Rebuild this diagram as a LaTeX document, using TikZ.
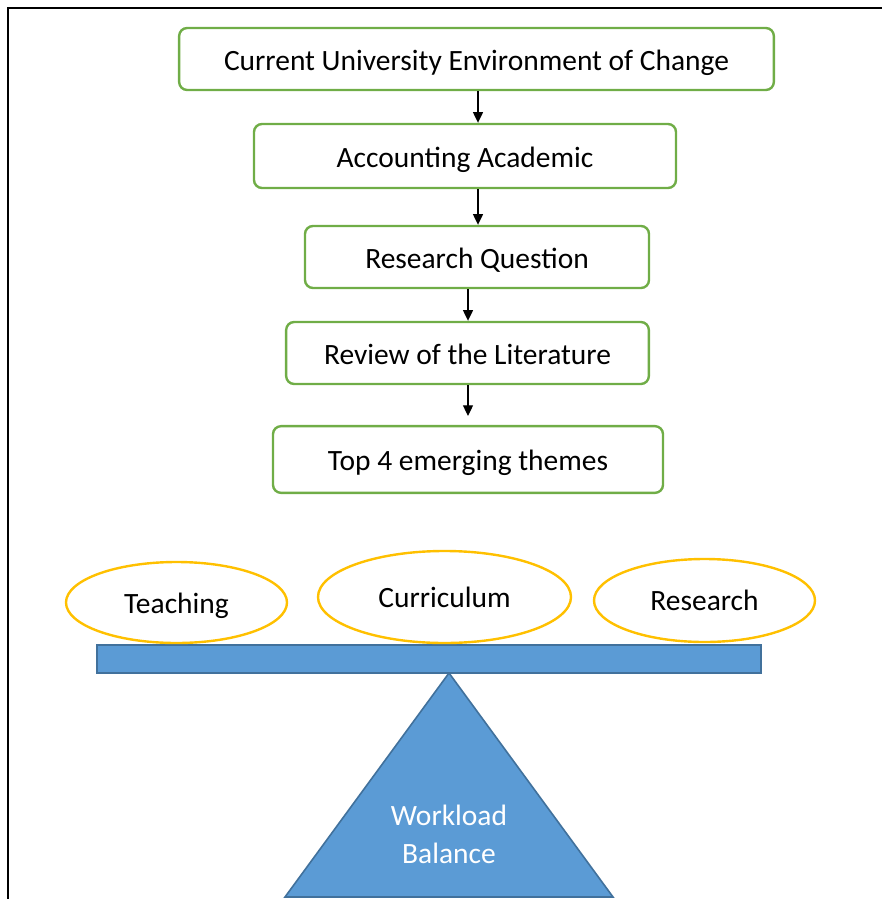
\documentclass[tikz,border=0pt]{standalone}
\usepackage{fontspec}
\setmainfont{Carlito}
\usetikzlibrary{arrows.meta,shapes.geometric}
\definecolor{boxgreen}{HTML}{70AD47}
\definecolor{themegold}{HTML}{FFC000}
\definecolor{beamblue}{HTML}{5B9BD5}
\definecolor{beamedge}{HTML}{41719C}

\begin{document}
\begin{tikzpicture}[x=0.75pt,y=-0.75pt,>={Triangle[length=8pt,width=7.5pt]},
  step box/.style={draw=boxgreen,line width=1.8pt,rounded corners=6pt,inner sep=0pt,
    text height=17pt,text depth=0pt,font=\fontsize{22.1}{26}\selectfont},
  theme/.style={ellipse,draw=themegold,line width=1.8pt,inner sep=0pt,
    font=\fontsize{22.1}{26}\selectfont},
  scale part/.style={fill=beamblue,draw=beamedge,line width=1.2pt}]
  \useasboundingbox (0,0) rectangle (882,899);

  % frame
  \draw[line width=2.2pt] (8,899) -- (8,8) -- (882,8);

  % research steps
  \node[step box,minimum width=446pt,minimum height=46.5pt] (change) at (476.5,59) {Current University Environment of Change};
  \node[step box,minimum width=316.5pt,minimum height=48pt] (academic) at (465,156) {Accounting Academic};
  \node[step box,minimum width=258pt,minimum height=46.5pt] (question) at (477,257) {Research Question};
  \node[step box,minimum width=272pt,minimum height=46.5pt] (review) at (467.5,353) {Review of the Literature};
  \node[step box,minimum width=292.5pt,minimum height=50pt] (themes) at (468,459.5) {Top 4 emerging themes};
  \coordinate (themes top) at (468,416);

  \draw[->,line width=0.9pt] (change.south -| 478,0) -- (academic.north -| 478,0);
  \draw[->,line width=0.9pt] (academic.south -| 478,0) -- (question.north -| 478,0);
  \draw[->,line width=0.9pt] (question.south -| 468,0) -- (review.north -| 468,0);
  \draw[->,line width=0.9pt] (review.south -| 468,0) -- (themes top);

  % the balance
  \draw[scale part] (449,673) -- (613,897) -- (285,897) -- cycle;
  \node[scale part,minimum width=498pt,minimum height=21pt,inner sep=0pt] (beam) at (429,659) {};
  \node[text=white,align=center,font=\fontsize{22.1}{28.5}\selectfont] (load) at (449,834) {Workload\\Balance};

  \node[theme,minimum width=165.75pt,minimum height=60.75pt,text height=16pt,text depth=0pt] (teaching) at (176.5,602.5) {Teaching};
  \node[theme,minimum width=189.75pt,minimum height=69pt] (curriculum) at (444.5,597) {Curriculum};
  \node[theme,minimum width=165.75pt,minimum height=62.25pt] (research) at (704.5,600.5) {Research};
\end{tikzpicture}
\end{document}
